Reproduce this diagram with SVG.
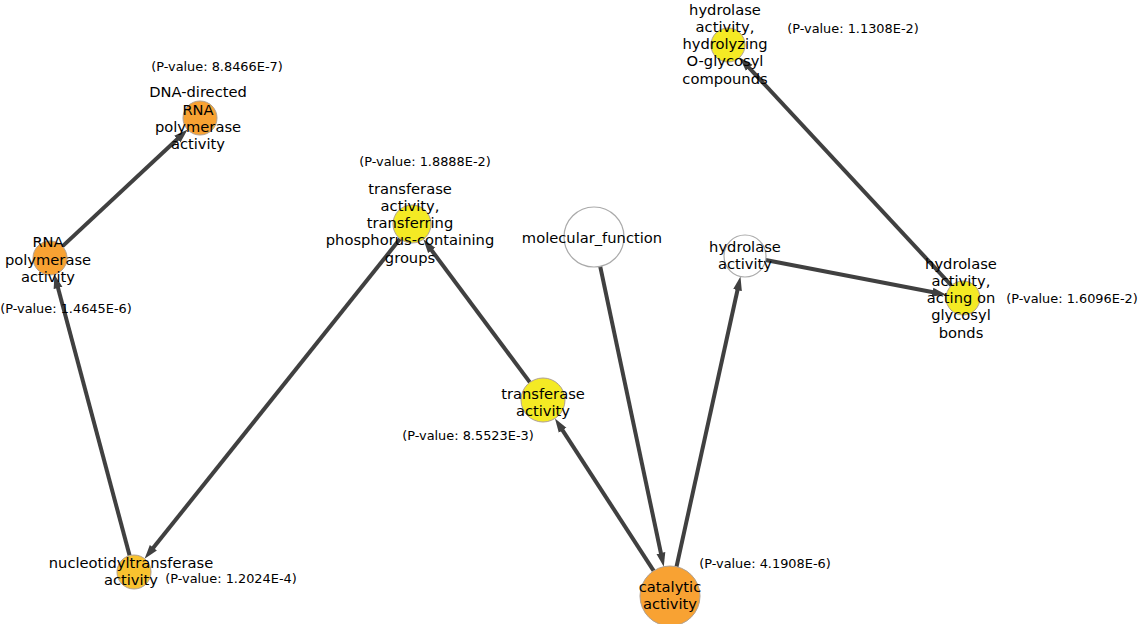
<svg xmlns="http://www.w3.org/2000/svg" width="1140" height="624" viewBox="0 0 1140 624">
<style>
.bg{fill:#ffffff}
.edge{stroke:#404040;stroke-width:4;fill:none}
.n{stroke:#b0a090;stroke-width:1}
.orange{fill:#f8a233}
.gold{fill:#f9c22f}
.yellow{fill:#f4ea24}
.white{fill:#ffffff;stroke:#aaaaaa;stroke-width:1.2}
.lbl{font-family:"DejaVu Sans","Noto Sans",sans-serif;font-size:14.7px;fill:#000000;text-anchor:middle}
.pv{font-family:"DejaVu Sans","Noto Sans",sans-serif;font-size:12.9px;fill:#000000;text-anchor:middle}
</style>
<defs>
<marker id="arr" viewBox="0 -6 16 12" refX="2" refY="0" markerWidth="16" markerHeight="12" markerUnits="userSpaceOnUse" orient="auto">
<path d="M0,-4.5 L14,0 L0,4.5 z" fill="#404040"/>
</marker>
</defs>
<rect class="bg" x="0" y="0" width="1140" height="624"/>
<g id="edges">
<line class="edge" x1="62.4" y1="246.4" x2="178.8" y2="137.8" marker-end="url(#arr)"/>
<line class="edge" x1="129.6" y1="555.6" x2="57.5" y2="286.0" marker-end="url(#arr)"/>
<line class="edge" x1="400.1" y1="238.8" x2="152.1" y2="549.3" marker-end="url(#arr)"/>
<line class="edge" x1="529.9" y1="382.4" x2="430.5" y2="248.8" marker-end="url(#arr)"/>
<line class="edge" x1="653.7" y1="570.8" x2="561.5" y2="428.6" marker-end="url(#arr)"/>
<line class="edge" x1="600.2" y1="266.3" x2="661.3" y2="555.0" marker-end="url(#arr)"/>
<line class="edge" x1="676.5" y1="566.7" x2="737.9" y2="288.2" marker-end="url(#arr)"/>
<line class="edge" x1="765.6" y1="260.0" x2="934.5" y2="292.5" marker-end="url(#arr)"/>
<line class="edge" x1="951.4" y1="285.5" x2="747.8" y2="66.3" marker-end="url(#arr)"/>
</g>
<g id="node-dna-directed">
<circle class="n orange" cx="200" cy="118" r="17"/>
<text class="lbl"><tspan x="198" y="97">DNA-directed</tspan><tspan x="198" y="114.5">RNA</tspan><tspan x="198" y="132">polymerase</tspan><tspan x="198" y="149">activity</tspan></text>
<text class="pv" x="217" y="70.5">(P-value: 8.8466E-7)</text>
</g>
<g id="node-rna-polymerase">
<circle class="n orange" cx="50" cy="258" r="17"/>
<text class="lbl"><tspan x="48" y="247">RNA</tspan><tspan x="48" y="264.5">polymerase</tspan><tspan x="48" y="282">activity</tspan></text>
<text class="pv" x="66" y="312.5">(P-value: 1.4645E-6)</text>
</g>
<g id="node-transferring-phosphorus">
<circle class="n yellow" cx="412" cy="224" r="19"/>
<text class="lbl"><tspan x="410" y="193.5">transferase</tspan><tspan x="410" y="210.8">activity,</tspan><tspan x="410" y="228.1">transferring</tspan><tspan x="410" y="245.4">phosphorus-containing</tspan><tspan x="410" y="262.7">groups</tspan></text>
<text class="pv" x="425" y="165.5">(P-value: 1.8888E-2)</text>
</g>
<g id="node-molecular-function">
<circle class="white" cx="594" cy="237" r="30"/>
<text class="lbl" x="592" y="243">molecular_function</text>
</g>
<g id="node-hydrolase">
<circle class="white" cx="745" cy="256" r="21"/>
<text class="lbl"><tspan x="745" y="252">hydrolase</tspan><tspan x="745" y="269">activity</tspan></text>
</g>
<g id="node-hydrolyzing-o-glycosyl">
<circle class="n yellow" cx="728" cy="45" r="17"/>
<text class="lbl"><tspan x="725" y="14.5">hydrolase</tspan><tspan x="725" y="31.8">activity,</tspan><tspan x="725" y="49.1">hydrolyzing</tspan><tspan x="725" y="66.4">O-glycosyl</tspan><tspan x="725" y="83.7">compounds</tspan></text>
<text class="pv" x="853" y="32.5">(P-value: 1.1308E-2)</text>
</g>
<g id="node-glycosyl-bonds">
<circle class="n yellow" cx="963" cy="298" r="17"/>
<text class="lbl"><tspan x="961" y="268.5">hydrolase</tspan><tspan x="961" y="285.8">activity,</tspan><tspan x="961" y="303.1">acting on</tspan><tspan x="961" y="320.4">glycosyl</tspan><tspan x="961" y="337.7">bonds</tspan></text>
<text class="pv" x="1072" y="302.5">(P-value: 1.6096E-2)</text>
</g>
<g id="node-transferase">
<circle class="n yellow" cx="543" cy="400" r="22"/>
<text class="lbl"><tspan x="543" y="398.5">transferase</tspan><tspan x="543" y="415.8">activity</tspan></text>
<text class="pv" x="468" y="439.5">(P-value: 8.5523E-3)</text>
</g>
<g id="node-catalytic">
<circle class="n orange" cx="670" cy="596" r="30"/>
<text class="lbl"><tspan x="670" y="592">catalytic</tspan><tspan x="670" y="609">activity</tspan></text>
<text class="pv" x="765" y="567.5">(P-value: 4.1908E-6)</text>
</g>
<g id="node-nucleotidyltransferase">
<circle class="n gold" cx="134" cy="572" r="17"/>
<text class="lbl"><tspan x="131" y="568">nucleotidyltransferase</tspan><tspan x="131" y="585">activity</tspan></text>
<text class="pv" x="231" y="582.5">(P-value: 1.2024E-4)</text>
</g>
</svg>
